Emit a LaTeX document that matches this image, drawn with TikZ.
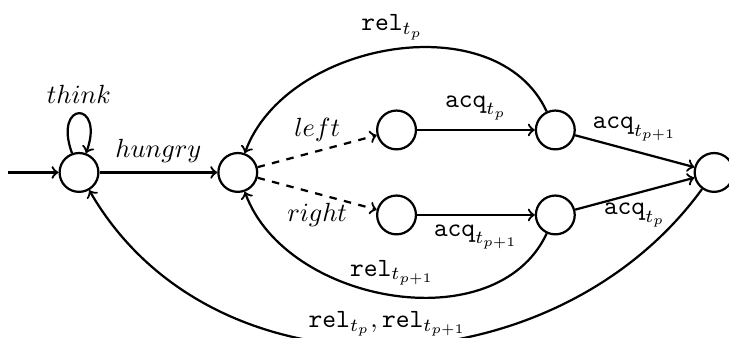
\documentclass[tikz,border=0pt]{standalone}
\usepackage{amsmath}
\usepackage{amssymb}
\usepackage{tikz}
\usetikzlibrary{arrows, positioning}

\begin{document}
\begin{tikzpicture}[
    node distance=0.602cm and 2.249cm, on grid,
    state/.style={circle, draw, line width=0.9pt, minimum size=5.5mm, inner sep=0pt},
    trans/.style={->, line width=0.9pt, nodes={scale=1.06}},
    choice/.style={trans, dashed}
]
    \useasboundingbox (-1.119,-2.344) rectangle (9.207,2.443);

    \node (idle) [state] {};
    \node (hungry) [state, right=of idle] {};
    \node (l0) [state, above right=of hungry] {};
    \node (r0) [state, below right=of hungry] {};
    \node (l1) [state, right=of l0] {};
    \node (r1) [state, right=of r0] {};
    \node (eat) [state, below right=of l1] {};
    \coordinate [left=1.006cm of idle] (start);

    \draw[trans] (start) -- (idle);
    \draw[trans] (idle) to[out=110, in=70, min distance=8mm] node[above] {$think$} (idle);
    \draw[trans] (idle) -- node[above] {$hungry$} (hungry);
    \draw[choice] (hungry) -- node[above] {$left$} (l0);
    \draw[choice] (hungry) -- node[below] {$right$} (r0);
    \draw[trans] (l0) -- node[above] {$\mathtt{acq}_{t_p}$} (l1);
    \draw[trans] (r0) -- node[below] {$\mathtt{acq}_{t_{p+1}}$} (r1);
    \draw[trans] (l1) -- node[above] {$\mathtt{acq}_{t_{p+1}}$} (eat);
    \draw[trans] (r1) -- node[below] {$\mathtt{acq}_{t_p}$} (eat);
    \draw[trans] (l1) to[out=115, in=70] node[above] {$\mathtt{rel}_{t_p}$} (hungry);
    \draw[trans] (r1) to[out=-115, in=-70] node[above] {$\mathtt{rel}_{t_{p+1}}$} (hungry);
    \draw[trans] (eat) to[out=-126, in=-60, looseness=1.04] node[above] {$\mathtt{rel}_{t_p},\mathtt{rel}_{t_{p+1}}$} (idle);
\end{tikzpicture}
\end{document}
